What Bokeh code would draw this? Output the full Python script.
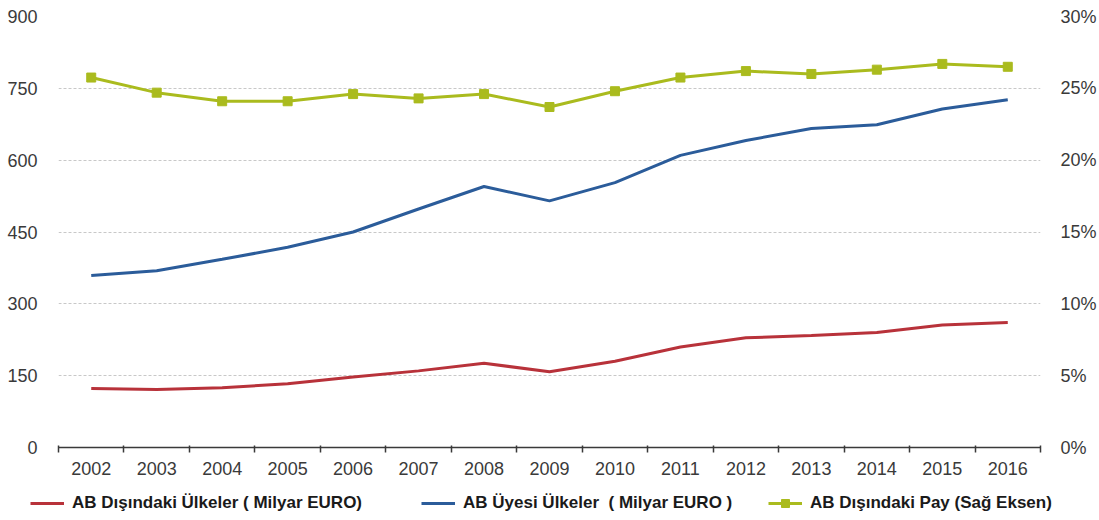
from bokeh.plotting import figure
from bokeh.models import (Range1d, LinearAxis, FixedTicker, Legend, LegendItem,
                          PrintfTickFormatter, ColumnDataSource)
from bokeh.embed import file_html
from bokeh.resources import INLINE

years = ["2002", "2003", "2004", "2005", "2006", "2007", "2008", "2009",
         "2010", "2011", "2012", "2013", "2014", "2015", "2016"]
ab_disi = [123, 121, 125, 133, 147, 160, 176, 158, 180, 210, 229, 234, 240, 256, 261]
ab_uyesi = [359, 369, 393, 418, 450, 498, 545, 515, 553, 610, 641, 666, 674, 707, 726]
pay = [25.75, 24.7, 24.1, 24.1, 24.6, 24.3, 24.6, 23.7, 24.8, 25.75, 26.2, 26.0, 26.3, 26.7, 26.5]
left_ticks = [0, 150, 300, 450, 600, 750, 900]
right_ticks = [0, 5, 10, 15, 20, 25, 30]
labels = ["AB Dışındaki Ülkeler ( Milyar EURO)",
          "AB Üyesi Ülkeler  ( Milyar EURO )",
          "AB Dışındaki Pay (Sağ Eksen)"]

RED = "#B8323A"
BLUE = "#2B5C9A"
GREEN = "#AABB1E"
TXT = "#3a3a3a"
FONT = "Liberation Sans"

xs = list(range(len(years)))
src = ColumnDataSource(dict(x=xs, disi=ab_disi, uyesi=ab_uyesi, pay=pay))

p = figure(width=1099, height=490, output_backend="svg", toolbar_location=None,
           x_range=Range1d(-0.5, len(years) - 0.5), y_range=Range1d(0, 900),
           min_border_left=58, min_border_right=58, min_border_top=16,
           min_border_bottom=43)
p.outline_line_color = None
p.background_fill_color = "white"
p.extra_y_ranges = {"pct": Range1d(0, 30)}

# left axis
ya = p.yaxis[0]
ya.ticker = FixedTicker(ticks=left_ticks)
ya.axis_line_color = None
ya.major_tick_line_color = None
ya.minor_tick_line_color = None
ya.major_label_text_font = FONT
ya.major_label_text_font_size = "18px"
ya.major_label_text_color = TXT
ya.major_label_standoff = 15

# right axis
ra = LinearAxis(y_range_name="pct", ticker=FixedTicker(ticks=right_ticks),
                formatter=PrintfTickFormatter(format="%d%%"))
ra.axis_line_color = None
ra.major_tick_line_color = None
ra.minor_tick_line_color = None
ra.major_label_text_font = FONT
ra.major_label_text_font_size = "18px"
ra.major_label_text_color = TXT
ra.major_label_standoff = 14
p.add_layout(ra, "right")

# bottom axis
xa = p.xaxis[0]
xa.ticker = FixedTicker(ticks=xs, minor_ticks=[i - 0.5 for i in range(len(years) + 1)])
xa.major_label_overrides = {i: y for i, y in zip(xs, years)}
xa.major_tick_line_color = None
xa.major_tick_out = 0
xa.major_tick_in = 0
xa.minor_tick_line_color = TXT
xa.minor_tick_out = 5
xa.minor_tick_in = 2
xa.minor_tick_line_width = 1.5
xa.axis_line_color = TXT
xa.axis_line_width = 1.5
xa.major_label_text_font = FONT
xa.major_label_text_font_size = "18px"
xa.major_label_text_color = TXT
xa.major_label_standoff = 9

# grid
p.xgrid.grid_line_color = None
p.ygrid.ticker = FixedTicker(ticks=left_ticks)
p.ygrid.grid_line_color = "#c8c8c8"
p.ygrid.grid_line_dash = "3 2"
p.ygrid.grid_line_width = 1

p.line("x", "disi", source=src, line_color=RED, line_width=3)
p.line("x", "uyesi", source=src, line_color=BLUE, line_width=3)
p.line("x", "pay", source=src, line_color=GREEN, line_width=3, y_range_name="pct")
p.scatter("x", "pay", source=src, marker="square", size=9, fill_color=GREEN,
          line_color=GREEN, y_range_name="pct")

# legend strip below the chart (separate root, same series, ranges keep glyphs out of view)
lp = figure(width=1099, height=30, output_backend="svg", toolbar_location=None,
            x_range=Range1d(-0.5, len(years) - 0.5), y_range=Range1d(5000, 5001),
            title=None, x_axis_location=None, y_axis_location=None,
            min_border_left=0, min_border_right=0, min_border_top=0, min_border_bottom=0)
lp.outline_line_color = None
lp.xgrid.visible = False
lp.ygrid.visible = False
l_red = lp.line("x", "disi", source=src, line_color=RED, line_width=3)
l_blue = lp.line("x", "uyesi", source=src, line_color=BLUE, line_width=3)
l_gl = lp.line("x", "pay", source=src, line_color=GREEN, line_width=3)
l_gm = lp.scatter("x", "pay", source=src, marker="square", size=9, fill_color=GREEN,
                  line_color=GREEN)

def mk_legend(label, renderers, loc):
    lg = Legend(items=[LegendItem(label=label, renderers=renderers)], location=loc)
    lg.background_fill_alpha = 0
    lg.border_line_color = None
    lg.padding = 0
    lg.margin = 0
    lg.glyph_width = 34
    lg.glyph_height = 20
    lg.label_standoff = 8
    lg.label_text_font = FONT
    lg.label_text_font_size = "17px"
    lg.label_text_font_style = "bold"
    lg.label_text_color = "#1a1a1a"
    lp.add_layout(lg)

mk_legend(labels[0], [l_red], (30, 7))
mk_legend(labels[1], [l_blue], (421, 7))
mk_legend(labels[2], [l_gl, l_gm], (768, 7))

open("out.html", "w").write(file_html([p, lp], INLINE))
